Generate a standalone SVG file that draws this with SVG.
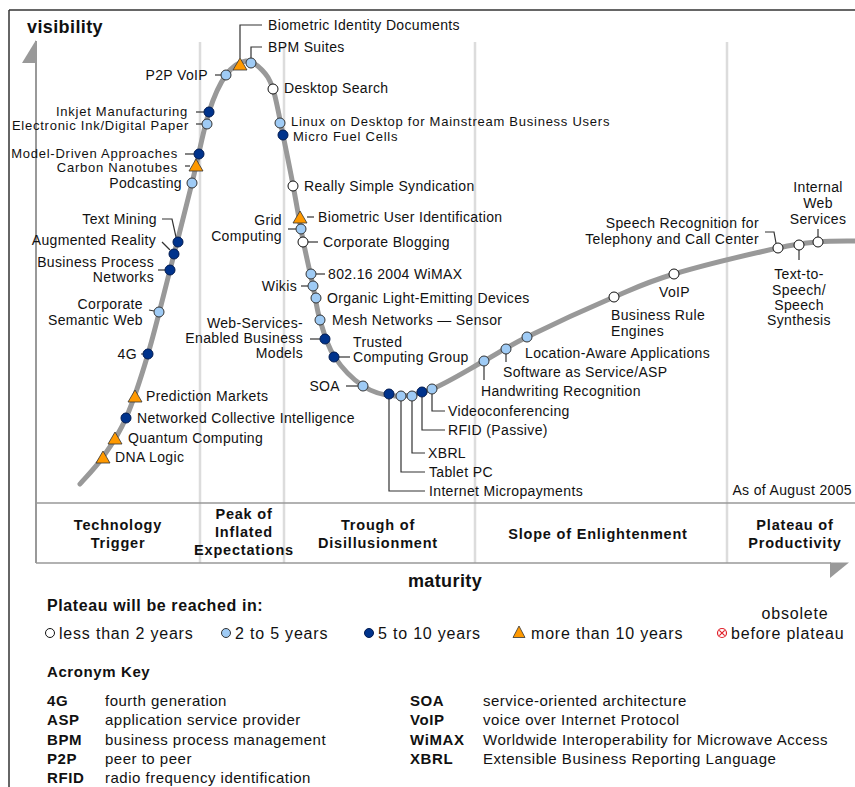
<svg xmlns="http://www.w3.org/2000/svg" xmlns:xlink="http://www.w3.org/1999/xlink" width="855" height="787" viewBox="0 0 855 787">
<style>
text{font-family:"Liberation Sans",Arial,sans-serif;fill:#111}
.t{font-size:14px;letter-spacing:0.35px}
.s{font-size:13px;letter-spacing:0.75px}
.e{text-anchor:end}
.m{text-anchor:middle}
.ax{font-size:18px;font-weight:bold;letter-spacing:0.4px}
.ph{font-size:14.5px;font-weight:bold;letter-spacing:0.8px;text-anchor:middle}
.lt{font-size:16px;font-weight:bold;letter-spacing:0.6px}
.lg{font-size:16px;letter-spacing:0.8px}
.ak{font-size:15px;font-weight:bold;letter-spacing:0.6px}
.ad{font-size:15px;letter-spacing:0.5px}
.ld{fill:none;stroke:#333;stroke-width:1.2}
.w{fill:#fff;stroke:#111;stroke-width:1}
.l{fill:#9fcbf5;stroke:#333;stroke-width:1}
.d{fill:#00338c;stroke:#001a50;stroke-width:1}
.tri{fill:#ff9900;stroke:#333;stroke-width:0.8}
.div{stroke:#dcdcdc;stroke-width:2.5}
.axl{stroke:#999;stroke-width:2;fill:none}
</style>
<defs>
<path id="tri" class="tri" d="M0,-7 L7,5 L-7,5 Z"/>
</defs>
<g id="frame">
<line x1="9" y1="10" x2="9" y2="787" stroke="#333" stroke-width="1.5"/>
<line x1="9" y1="10" x2="855" y2="10" stroke="#333" stroke-width="1.5"/>
<line class="div" x1="200" y1="42" x2="200" y2="563"/>
<line class="div" x1="284" y1="42" x2="284" y2="563"/>
<line class="div" x1="475" y1="42" x2="475" y2="563"/>
<line class="div" x1="727" y1="42" x2="727" y2="563"/>
<line class="axl" x1="36" y1="41" x2="36" y2="563"/>
<polygon points="36,40 36,63 22,63" fill="#999"/>
<line x1="36" y1="503" x2="855" y2="503" stroke="#999" stroke-width="1.5"/>
<line x1="36" y1="563" x2="831" y2="563" stroke="#999" stroke-width="1.5"/>
<polygon points="830,562.5 849,562.5 830,578" fill="#999"/>
<text class="ax" x="27" y="33">visibility</text>
<text class="ax m" x="445" y="587">maturity</text>
<text class="t e" x="852" y="495">As of August 2005</text>
</g>
<g id="phases">
<text class="ph" x="118" y="530">Technology</text>
<text class="ph" x="118" y="548">Trigger</text>
<text class="ph" x="244" y="519">Peak of</text>
<text class="ph" x="244" y="537">Inflated</text>
<text class="ph" x="244" y="555">Expectations</text>
<text class="ph" x="378" y="530">Trough of</text>
<text class="ph" x="378" y="548">Disillusionment</text>
<text class="ph" x="598" y="539">Slope of Enlightenment</text>
<text class="ph" x="795" y="530">Plateau of</text>
<text class="ph" x="795" y="548">Productivity</text>
</g>
<g id="curve">
<path d="M80,484 C83.8,479.5 95.3,468 103,457 C110.7,446 118.5,435.2 126,418 C133.5,400.8 140.7,378.7 148,354 C155.3,329.3 162.7,298.5 170,270 C177.3,241.5 185.5,209.3 192,183 C198.5,156.7 203.3,130 209,112 C214.7,94 219.8,83.5 226,75 C232.2,66.5 240,61.8 246,61 C252,60.2 257.5,65.3 262,70 C266.5,74.7 269.5,78.2 273,89 C276.5,99.8 279.700,119 283,135 C286.3,151 289.7,167.5 293,185 C296.3,202.5 299.7,223.2 303,240 C306.3,256.8 310.2,272.7 313,286 C315.8,299.3 316.5,308.3 320,320 C323.5,331.7 326.8,345 334,356 C341.2,367 352.8,379.3 363,386 C373.2,392.7 383.5,395.5 395,396 C406.5,396.5 417.2,394.8 432,389 C446.8,383.2 468.2,369.7 484,361 C499.8,352.3 505.3,347.7 527,337 C548.7,326.3 589.5,307.5 614,297 C638.5,286.5 646.7,282.2 674,274 C701.3,265.8 754,253.3 778,248 C802,242.7 805.2,243.2 818,242 C830.8,240.8 848.8,241.2 855,241" fill="none" stroke="#999" stroke-width="5" stroke-linecap="round"/>
</g>
<g id="connectors" class="ld">
<polyline points="240,58 240,25 262,25"/>
<polyline points="251,58 251,47 262,47"/>
<line x1="215" y1="75" x2="221" y2="75"/>
<line x1="196" y1="112" x2="204" y2="112"/>
<line x1="196" y1="124" x2="202" y2="124"/>
<line x1="185" y1="154" x2="194" y2="154"/>
<line x1="185" y1="166" x2="190" y2="166"/>
<polyline points="162,219 172,219 176,237"/>
<line x1="162" y1="242" x2="170" y2="250"/>
<line x1="158" y1="270" x2="165" y2="270"/>
<line x1="149" y1="310" x2="154" y2="311"/>
<line x1="141" y1="354" x2="143" y2="354"/>
<line x1="288" y1="229" x2="296" y2="229"/>
<line x1="301" y1="286" x2="308" y2="286"/>
<line x1="310" y1="339" x2="320" y2="339"/>
<line x1="346" y1="386" x2="358" y2="386"/>
<polyline points="765,232 774,232 776,243"/>
<line x1="307" y1="217" x2="314" y2="217"/>
<line x1="308" y1="242" x2="318" y2="242"/>
<line x1="316" y1="274" x2="325" y2="274"/>
<line x1="339" y1="357" x2="350" y2="357"/>
<polyline points="432,394 432,411 445,411"/>
<polyline points="422,397 422,430 445,430"/>
<polyline points="412,401 412,453 425,453"/>
<polyline points="401,401 401,472 425,472"/>
<polyline points="389,399 389,491 425,491"/>
<line x1="484" y1="366" x2="484" y2="380"/>
<line x1="506" y1="354" x2="506" y2="362"/>
<line x1="799" y1="250" x2="799" y2="260"/>
<line x1="818" y1="229" x2="818" y2="237"/>
</g>
<g id="n-biometric-id"><use href="#tri" x="240" y="65"/><text class="t" x="268" y="30">Biometric Identity Documents</text></g>
<g id="n-bpm"><circle class="l" cx="251" cy="63" r="5"/><text class="t" x="268" y="52">BPM Suites</text></g>
<g id="n-p2p"><circle class="l" cx="226" cy="75" r="5"/><text class="t e" x="208" y="80">P2P VoIP</text></g>
<g id="n-inkjet"><circle class="d" cx="209" cy="112" r="5"/><text class="s e" x="188" y="115.5">Inkjet Manufacturing</text></g>
<g id="n-eink"><circle class="l" cx="207" cy="124" r="5"/><text class="s e" x="189" y="129.5">Electronic Ink/Digital Paper</text></g>
<g id="n-mda"><circle class="d" cx="199" cy="154" r="5"/><text class="s e" x="178" y="157.5">Model-Driven Approaches</text></g>
<g id="n-carbon"><use href="#tri" x="196" y="166"/><text class="s e" x="178" y="171.5">Carbon Nanotubes</text></g>
<g id="n-podcast"><circle class="l" cx="192" cy="183" r="5"/><text class="t e" x="182" y="188">Podcasting</text></g>
<g id="n-textmining"><circle class="d" cx="178" cy="242" r="5"/><text class="t e" x="157" y="224">Text Mining</text></g>
<g id="n-ar"><circle class="d" cx="174" cy="254" r="5"/><text class="t e" x="156" y="245">Augmented Reality</text></g>
<g id="n-bpn"><circle class="d" cx="170" cy="270" r="5"/><text class="t e" x="154" y="267">Business Process</text><text class="t e" x="154" y="282">Networks</text></g>
<g id="n-csw"><circle class="l" cx="159" cy="312" r="5"/><text class="t e" x="143" y="309">Corporate</text><text class="t e" x="143" y="325">Semantic Web</text></g>
<g id="n-4g"><circle class="d" cx="148" cy="354" r="5"/><text class="t e" x="137" y="359">4G</text></g>
<g id="n-prediction"><use href="#tri" x="135" y="397"/><text class="t" x="146" y="401">Prediction Markets</text></g>
<g id="n-nci"><circle class="d" cx="126" cy="418" r="5"/><text class="t" x="137" y="423">Networked Collective Intelligence</text></g>
<g id="n-quantum"><use href="#tri" x="115" y="439"/><text class="t" x="128" y="443">Quantum Computing</text></g>
<g id="n-dna"><use href="#tri" x="103" y="458"/><text class="t" x="115" y="462">DNA Logic</text></g>
<g id="n-desktop"><circle class="w" cx="273" cy="89" r="5"/><text class="t" x="284" y="93">Desktop Search</text></g>
<g id="n-linux"><circle class="l" cx="280" cy="123" r="5"/><text class="s" x="291" y="125.5">Linux on Desktop for Mainstream Business Users</text></g>
<g id="n-fuel"><circle class="d" cx="283" cy="135" r="5"/><text class="s" x="293" y="140.5">Micro Fuel Cells</text></g>
<g id="n-rss"><circle class="w" cx="293" cy="186" r="5"/><text class="t" x="304" y="191">Really Simple Syndication</text></g>
<g id="n-bui"><use href="#tri" x="300" y="218"/><text class="t" x="318" y="222">Biometric User Identification</text></g>
<g id="n-grid"><circle class="l" cx="301" cy="229" r="5"/><text class="t e" x="282" y="225">Grid</text><text class="t e" x="282" y="241">Computing</text></g>
<g id="n-blog"><circle class="w" cx="303" cy="242" r="5"/><text class="t" x="323" y="247">Corporate Blogging</text></g>
<g id="n-wimax"><circle class="l" cx="311" cy="274" r="5"/><text class="t" x="328" y="279">802.16 2004 WiMAX</text></g>
<g id="n-wikis"><circle class="l" cx="313" cy="286" r="5"/><text class="t e" x="297" y="291">Wikis</text></g>
<g id="n-oled"><circle class="l" cx="316" cy="298" r="5"/><text class="t" x="327" y="303">Organic Light-Emitting Devices</text></g>
<g id="n-mesh"><circle class="l" cx="320" cy="320" r="5"/><text class="t" x="332" y="325">Mesh Networks — Sensor</text></g>
<g id="n-wseb"><circle class="d" cx="325" cy="339" r="5"/><text class="t e" x="303" y="328">Web-Services-</text><text class="t e" x="303" y="343">Enabled Business</text><text class="t e" x="303" y="358">Models</text></g>
<g id="n-trusted"><circle class="d" cx="334" cy="357" r="5"/><text class="t" x="353" y="347">Trusted</text><text class="t" x="353" y="362">Computing Group</text></g>
<g id="n-soa"><circle class="l" cx="363" cy="386" r="5"/><text class="t e" x="340" y="391">SOA</text></g>
<g id="n-micropay"><circle class="d" cx="389" cy="394" r="5"/><text class="t" x="429" y="496">Internet Micropayments</text></g>
<g id="n-tablet"><circle class="l" cx="401" cy="396" r="5"/><text class="t" x="429" y="477">Tablet PC</text></g>
<g id="n-xbrl"><circle class="l" cx="412" cy="396" r="5"/><text class="t" x="428" y="458">XBRL</text></g>
<g id="n-rfid"><circle class="d" cx="422" cy="392" r="5"/><text class="t" x="448" y="435">RFID (Passive)</text></g>
<g id="n-video"><circle class="l" cx="432" cy="389" r="5"/><text class="t" x="448" y="416">Videoconferencing</text></g>
<g id="n-handwriting"><circle class="l" cx="484" cy="361" r="5"/><text class="t" x="481" y="396">Handwriting Recognition</text></g>
<g id="n-saas"><circle class="l" cx="506" cy="349" r="5"/><text class="t" x="503" y="377">Software as Service/ASP</text></g>
<g id="n-location"><circle class="l" cx="527" cy="337" r="5"/><text class="t" x="525" y="358">Location-Aware Applications</text></g>
<g id="n-bre"><circle class="w" cx="614" cy="297" r="5"/><text class="t" x="611" y="320">Business Rule</text><text class="t" x="611" y="336">Engines</text></g>
<g id="n-voip"><circle class="w" cx="674" cy="274" r="5"/><text class="t" x="659" y="297">VoIP</text></g>
<g id="n-speech"><circle class="w" cx="778" cy="248" r="5"/><text class="t e" x="759" y="228">Speech Recognition for</text><text class="t e" x="759" y="244">Telephony and Call Center</text></g>
<g id="n-tts"><circle class="w" cx="799" cy="245" r="5"/><text class="t m" x="799" y="279">Text-to-</text><text class="t m" x="799" y="295">Speech/</text><text class="t m" x="799" y="310">Speech</text><text class="t m" x="799" y="325">Synthesis</text></g>
<g id="n-iws"><circle class="w" cx="818" cy="242" r="5"/><text class="t m" x="818" y="192">Internal</text><text class="t m" x="818" y="208">Web</text><text class="t m" x="818" y="224">Services</text></g>
<g id="legend">
<text class="lt" x="47" y="611">Plateau will be reached in:</text>
<circle class="w" cx="50" cy="633" r="4.5"/>
<text class="lg" x="59" y="639">less than 2 years</text>
<circle class="l" cx="226" cy="633" r="4.5"/>
<text class="lg" x="235" y="639">2 to 5 years</text>
<circle class="d" cx="369" cy="633" r="4.5"/>
<text class="lg" x="378" y="639">5 to 10 years</text>
<path class="tri" d="M519,626 L525,637.5 L513,637.5 Z"/>
<text class="lg" x="531" y="639">more than 10 years</text>
<circle cx="722" cy="633" r="4.5" fill="#fff" stroke="#e0202a" stroke-width="1.2"/>
<path d="M719.3,630.3 L724.7,635.7 M724.7,630.3 L719.3,635.7" stroke="#e0202a" stroke-width="1.2"/>
<text class="lg" x="731" y="639">before plateau</text>
<text class="lg m" x="795" y="619">obsolete</text>
</g>
<g id="acronyms">
<text class="ak" x="47" y="677">Acronym Key</text>
<text class="ak" x="47" y="706">4G</text><text class="ad" x="105" y="706">fourth generation</text>
<text class="ak" x="47" y="725">ASP</text><text class="ad" x="105" y="725">application service provider</text>
<text class="ak" x="47" y="745">BPM</text><text class="ad" x="105" y="745">business process management</text>
<text class="ak" x="47" y="764">P2P</text><text class="ad" x="105" y="764">peer to peer</text>
<text class="ak" x="47" y="783">RFID</text><text class="ad" x="105" y="783">radio frequency identification</text>
<text class="ak" x="410" y="706">SOA</text><text class="ad" x="483" y="706">service-oriented architecture</text>
<text class="ak" x="410" y="725">VoIP</text><text class="ad" x="483" y="725">voice over Internet Protocol</text>
<text class="ak" x="410" y="745">WiMAX</text><text class="ad" x="483" y="745">Worldwide Interoperability for Microwave Access</text>
<text class="ak" x="410" y="764">XBRL</text><text class="ad" x="483" y="764">Extensible Business Reporting Language</text>
</g>
</svg>
